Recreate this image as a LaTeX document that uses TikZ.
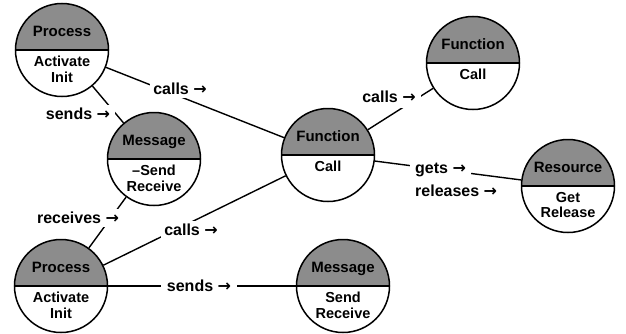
\documentclass[tikz,border=0pt]{standalone}
\usepackage{fontspec}
\setmainfont{Liberation Sans}
\newfontfamily\arrowfont{DejaVu Sans}
\newcommand{\rarr}{{\arrowfont\bfseries →}}
\begin{document}
\begin{tikzpicture}[x=1pt,y=1pt,
  obj/.style={circle, draw, line width=1.5pt, minimum size=93pt, inner sep=0pt,
    path picture={
      \fill[black!45] (path picture bounding box.north west) rectangle (path picture bounding box.east);
      \draw[line width=1.5pt] (path picture bounding box.west) -- (path picture bounding box.east);}},
  hdr/.style={anchor=base, inner sep=0pt, font=\bfseries\fontsize{15}{16}\selectfont},
  body/.style={anchor=north, inner sep=0pt, align=center, font=\bfseries\fontsize{14.5}{15.5}\selectfont},
  conn/.style={line width=1.4pt},
  lbl/.style={fill=white, inner sep=3pt, font=\bfseries\fontsize{16}{18}\selectfont},
  lblplain/.style={inner sep=3pt, font=\bfseries\fontsize{16}{18}\selectfont}]
\useasboundingbox (0,0) rectangle (626,333);

% objects
\node[obj] (P1) at (62,283) {};
\node[hdr] (P1h) at ([yshift=14pt]P1.center) {Process};
\node[body] (P1b) at ([yshift=-6pt]P1.center) {Activate\\Init};

\node[obj] (M1) at (154,174) {};
\node[hdr] (M1h) at ([yshift=14pt]M1.center) {Message};
\node[body] (M1b) at ([yshift=-6pt]M1.center) {–Send\\Receive};

\node[obj] (P2) at (61,47) {};
\node[hdr] (P2h) at ([yshift=14pt]P2.center) {Process};
\node[body] (P2b) at ([yshift=-6pt]P2.center) {Activate\\Init};

\node[obj] (F) at (328,178) {};
\node[hdr] (Fh) at ([yshift=14pt]F.center) {Function};
\node[body] (Fb) at ([yshift=-6pt]F.center) {Call};

\node[obj] (F2) at (473,270) {};
\node[hdr] (F2h) at ([yshift=14pt]F2.center) {Function};
\node[body] (F2b) at ([yshift=-6pt]F2.center) {Call};

\node[obj] (R) at (568,147) {};
\node[hdr] (Rh) at ([yshift=14pt]R.center) {Resource};
\node[body] (Rb) at ([yshift=-6pt]R.center) {Get\\Release};

\node[obj] (M2) at (343,47) {};
\node[hdr] (M2h) at ([yshift=14pt]M2.center) {Message};
\node[body] (M2b) at ([yshift=-6pt]M2.center) {Send\\Receive};

% connectors
\draw[conn] (P1) -- (F);
\draw[conn] (P1) -- (M1);
\draw[conn] (P2) -- (M1);
\draw[conn] (P2) -- (F);
\draw[conn] (P2.east) -- (M2.west);
\draw[conn] (F) -- (F2);
\draw[conn] (F) -- (R);

% labels
\node[lbl] (L1) at (180,244) {calls \rarr};
\node[lbl, inner xsep=5pt] (L2) at (78,219) {sends \rarr};
\node[lbl, inner xsep=5pt] (L3) at (78,115) {receives \rarr};
\node[lbl] (L4) at (191,103) {calls \rarr};
\node[lbl, inner xsep=6pt] (L5) at (199,47) {sends \rarr};
\node[lbl, inner sep=5pt] (L6) at (389,236) {calls \rarr};
\node[lbl, anchor=west, inner xsep=5pt] (L7) at (410,163) {gets \rarr};
\node[lblplain, anchor=west] (L8) at (412,142) {releases \rarr};
\end{tikzpicture}
\end{document}
